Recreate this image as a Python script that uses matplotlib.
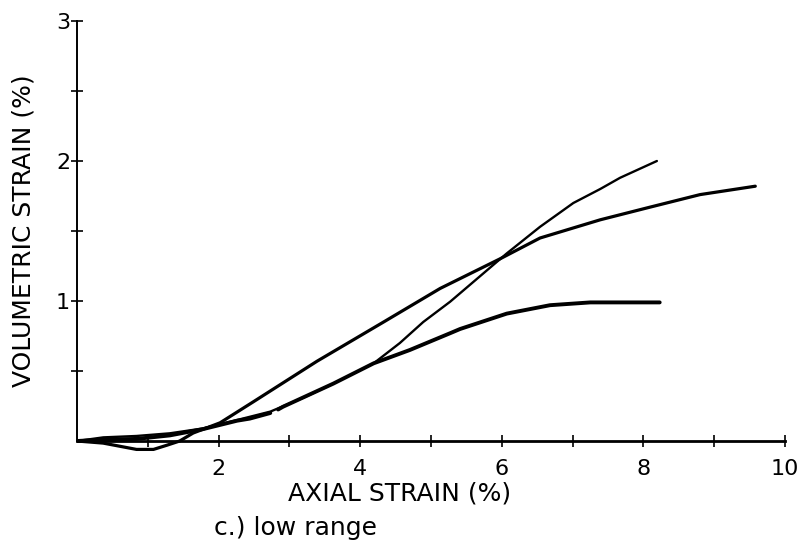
import numpy as np
import matplotlib.pyplot as plt

# curve: dips below zero first, ends near 9.6 %
A_X = [0.0, 0.37, 0.84, 1.08, 1.27, 1.45, 1.64, 2.02, 2.49, 3.39, 4.33, 5.13,
       5.97, 6.54, 7.39, 8.09, 8.80, 9.58]
A_Y = [0.0, -0.015, -0.06, -0.06, -0.03, 0.0, 0.057, 0.13, 0.28, 0.57, 0.85, 1.09,
       1.30, 1.45, 1.58, 1.67, 1.76, 1.82]

# thin curve, ends at 2 %
B_X = [0.0, 0.37, 0.84, 1.31, 1.78, 2.26, 2.73, 3.20, 3.62, 4.19, 4.56, 4.89,
       5.27, 6.07, 6.54, 7.01, 7.39, 7.67, 8.19]
B_Y = [0.0, 0.026, 0.036, 0.055, 0.09, 0.15, 0.21, 0.31, 0.41, 0.555, 0.70, 0.85,
       0.995, 1.34, 1.53, 1.70, 1.80, 1.88, 2.00]

# thick curve levelling off at 1 % (small break in the scan near 2.8)
C_X = [0.0, 0.37, 0.84, 1.31, 1.78, 2.26, 2.44, 2.73, np.nan, 2.84, 2.91, 3.62,
       4.19, 4.70, 5.27, 5.41, 6.07, 6.68, 7.25, 8.23]
C_Y = [0.0, 0.01, 0.015, 0.04, 0.085, 0.145, 0.16, 0.20, np.nan, 0.225, 0.245, 0.41,
       0.555, 0.65, 0.77, 0.80, 0.91, 0.97, 0.99, 0.99]

X_MAJOR = [2, 4, 6, 8, 10]
X_MINOR = [1, 3, 5, 7, 9]
Y_MAJOR = [1, 2, 3]
Y_MINOR = [0.5, 1.5, 2.5]


def main():
    fig = plt.figure(figsize=(8.04, 5.51), dpi=100)
    ax = fig.add_axes([0.0958, 0.1615, 0.8806, 0.8004])

    ax.plot(A_X, A_Y, color="black", lw=2.3, solid_capstyle="round")
    ax.plot(B_X, B_Y, color="black", lw=1.7, solid_capstyle="round")
    ax.plot(C_X, C_Y, color="black", lw=2.8, solid_capstyle="round")

    ax.set_xlim(0, 10)
    ax.set_ylim(-0.15, 3.0)

    for s in ("top", "right"):
        ax.spines[s].set_visible(False)
    ax.spines["bottom"].set_position(("data", 0))
    ax.spines["bottom"].set_bounds(0, 10)
    ax.spines["bottom"].set_linewidth(2.0)
    ax.spines["left"].set_bounds(0, 3)
    ax.spines["left"].set_linewidth(1.4)

    ax.set_xticks(X_MAJOR)
    ax.set_xticks(X_MINOR, minor=True)
    ax.set_yticks(Y_MAJOR)
    ax.set_yticks(Y_MINOR, minor=True)
    ax.set_xticklabels([str(v) for v in X_MAJOR])
    ax.set_yticklabels([str(v) for v in Y_MAJOR])

    ax.tick_params(axis="both", which="both", direction="inout", length=8, width=1.2)
    ax.tick_params(axis="x", which="major", pad=9, labelsize=16)
    ax.tick_params(axis="y", which="major", pad=1, labelsize=16)

    ax.set_xlabel("AXIAL STRAIN (%)", fontsize=18, va="center")
    ax.xaxis.set_label_coords(0.456, -0.072)
    ax.set_ylabel("VOLUMETRIC STRAIN (%)", fontsize=18, va="center")
    ax.yaxis.set_label_coords(-0.075, 0.524)

    fig.text(296 / 804, 1 - 528 / 551, "c.) low range", fontsize=18,
             ha="center", va="center")

    plt.savefig("out.png", dpi=100)
    plt.close()


if __name__ == "__main__":
    main()
